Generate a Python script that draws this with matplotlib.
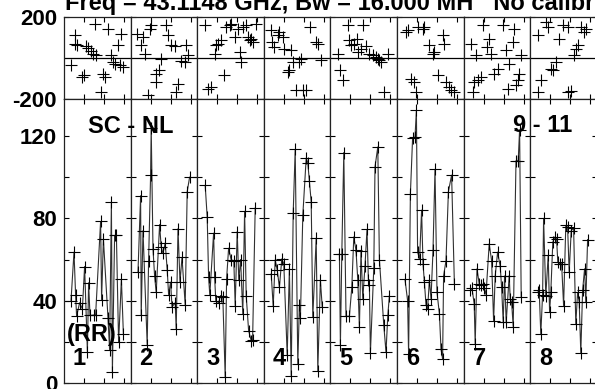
import matplotlib
matplotlib.use('Agg')
import matplotlib.pyplot as plt
from matplotlib.ticker import MultipleLocator

plt.rcParams['font.family'] = ['Liberation Sans', 'DejaVu Sans']
plt.rcParams['font.weight'] = 'bold'
plt.rcParams['axes.unicode_minus'] = False

title = 'Freq = 43.1148 GHz, Bw = 16.000 MH   No calibration'
col_labels = ['1', '2', '3', '4', '5', '6', '7', '8']

# amplitude: time (local units inside each box) and value
amp_t = [
    [0.35, 0.5, 0.58, 0.63, 0.78, 0.92, 1.03, 1.17, 1.23, 1.3, 1.48, 1.58, 1.83, 1.88, 1.97,
     2.2, 2.28, 2.37, 2.42, 2.53, 2.62, 2.73, 2.87, 2.97],
    [0.37, 0.5, 0.53, 0.62, 0.83, 0.9, 1.0, 1.03, 1.12, 1.2, 1.28, 1.45, 1.53, 1.62, 1.73,
     1.83, 1.9, 2.0, 2.07, 2.23, 2.28, 2.37, 2.47, 2.57, 2.73, 2.83, 2.95],
    [0.4, 0.5, 0.57, 0.63, 0.82, 0.87, 0.93, 1.07, 1.17, 1.28, 1.4, 1.47, 1.57, 1.7, 1.83,
     1.9, 2.0, 2.08, 2.17, 2.28, 2.37, 2.45, 2.57, 2.7, 2.77, 2.9],
    [0.37, 0.47, 0.57, 0.67, 0.78, 0.9, 1.0, 1.17, 1.28, 1.37, 1.47, 1.57, 1.7, 1.78, 1.83,
     1.95, 2.12, 2.2, 2.28, 2.37, 2.45, 2.62, 2.7, 2.83, 2.92],
    [0.45, 0.5, 0.57, 0.67, 0.78, 0.95, 1.07, 1.17, 1.28, 1.37, 1.45, 1.53, 1.62, 1.73, 1.83,
     1.9, 1.95, 2.0, 2.17, 2.23, 2.37, 2.45, 2.67, 2.78, 2.87, 2.95],
    [0.4, 0.53, 0.58, 0.67, 0.78, 0.9, 0.97, 1.03, 1.13, 1.23, 1.3, 1.37, 1.45, 1.53, 1.62,
     1.7, 1.8, 1.9, 2.0, 2.12, 2.2, 2.28, 2.33, 2.45, 2.57, 2.73, 2.87],
    [0.33, 0.42, 0.53, 0.58, 0.67, 0.78, 0.87, 0.95, 1.03, 1.12, 1.28, 1.4, 1.5, 1.58, 1.7,
     1.83, 1.9, 1.98, 2.05, 2.13, 2.28, 2.33, 2.4, 2.48, 2.62, 2.73, 2.8, 2.88],
    [0.37, 0.45, 0.53, 0.62, 0.67, 0.78, 0.9, 0.97, 1.03, 1.13, 1.23, 1.32, 1.38, 1.47, 1.57,
     1.67, 1.78, 1.87, 1.95, 2.05, 2.17, 2.28, 2.37, 2.45, 2.53, 2.62, 2.72, 2.78, 2.87],
]
amp_val = [
    [40, 63.6, 42.8, 32.4, 39, 36, 56.6, 15.2, 48.7, 32.8, 33, 33, 78.5, 40.5, 70,
     31.5, 16.2, 88, 5.5, 71.7, 71.7, 19.8, 50.3, 23.7],
    [54, 91, 32.8, 74, 18.5, 59.5, 101, 124, 65, 52, 44, 77, 66, 63, 68,
     55, 43, 49, 37, 39, 26, 75, 49, 61, 38, 93, 100],
    [96, 80.6, 51.4, 42.8, 72.8, 51.7, 40, 39, 42.5, 42, 2.8, 50.6, 65.5, 59.8, 59.5,
     37.6, 73.6, 50, 60, 33.6, 83.4, 42.5, 25.5, 20.6, 21, 85],
    [53, 37.3, 59.8, 55, 46.5, 60.3, 58, 13.6, 55.5, 3.6, 82.7, 113.5, 9.2, 38, 31.5,
     81.4, 109.3, 107, 98, 88, 32, 70.4, 6, 50, 37],
    [62.8, 18.5, 62.8, 112, 32.4, 32.4, 46.5, 71, 64.4, 50, 27, 64, 41, 57, 74.6,
     50, 47.4, 14.6, 56, 105, 114.7, 60, 28, 15, 32.8, 42.5],
    [50.3, 40, 14, 92, 119, 119.5, 132.5, 63.6, 60.3, 84, 58, 49, 38, 36, 50,
     41, 64.4, 103.8, 44, 33.6, 16.5, 11.7, 52, 59.5, 93, 101, 48],
    [45, 46, 38.4, 19, 55.5, 48.2, 47.5, 48, 46, 43, 67.6, 59.5, 30.3, 52, 63.6,
     56.8, 46.5, 29.8, 52, 29.5, 52.2, 40.9, 39.5, 27.4, 108, 108, 123, 41.7],
    [44, 45, 23.8, 43, 80, 42.5, 62, 34.4, 44, 68.4, 70.9, 70, 58.7, 58, 58,
     37.6, 76.6, 75.7, 53.8, 74, 75.3, 28.7, 44, 39.3, 14.6, 45, 55.5, 39.3, 69.7],
]

# phase (degrees)
ph_t = [
    [0.37, 0.53, 0.57, 0.67, 0.9, 1.0, 1.12, 1.2, 1.33, 1.45, 1.53, 1.62, 1.83, 1.95, 2.03,
     2.2, 2.33, 2.45, 2.53, 2.7, 2.78, 2.87, 2.95],
    [0.33, 0.53, 0.62, 0.7, 0.87, 0.95, 1.03, 1.25, 1.28, 1.4, 1.53, 1.78, 1.87, 2.03, 2.2,
     2.28, 2.37, 2.5, 2.7, 2.78, 2.87],
    [0.37, 0.53, 0.7, 0.87, 0.95, 1.03, 1.2, 1.33, 1.45, 1.62, 1.7, 1.87, 2.03, 2.12, 2.2,
     2.28, 2.45, 2.53, 2.62, 2.7, 2.78, 2.95],
    [0.37, 0.4, 0.53, 0.7, 0.78, 0.95, 1.03, 1.2, 1.28, 1.37, 1.45, 1.62, 1.78, 1.87, 1.95,
     2.12, 2.33, 2.62, 2.7, 2.87],
    [0.37, 0.5, 0.62, 0.87, 0.95, 1.03, 1.2, 1.33, 1.37, 1.53, 1.62, 1.78, 1.95, 2.12, 2.28,
     2.37, 2.45, 2.53, 2.7, 2.87],
    [0.45, 0.53, 0.7, 0.83, 0.95, 1.03, 1.28, 1.37, 1.62, 1.78, 1.87, 2.03, 2.28, 2.37, 2.45,
     2.62, 2.7, 2.87],
    [0.37, 0.45, 0.53, 0.62, 0.7, 0.87, 0.95, 1.17, 1.28, 1.37, 1.53, 1.7, 1.95, 2.12, 2.2,
     2.28, 2.45, 2.53, 2.62, 2.7, 2.78, 2.87],
    [0.37, 0.4, 0.53, 0.78, 0.87, 1.03, 1.12, 1.28, 1.45, 1.62, 1.87, 1.9, 2.03, 2.2, 2.28,
     2.37, 2.53, 2.7, 2.78],
]
ph_val = [
    [-36, 114, 70, 62, -93, -85, 59, 49, 33, 21, 167, 13, -166, -76, -93,
     143, 13, -20, -28, 62, -36, 119, -44],
    [119, 62, 102, 21, -182, 143, 159, -117, -76, -60, -3, 159, 111, 62, 60,
     -166, -125, -15, -20, 62, 13],
    [159, -150, -140, 21, 62, 70, 86, -85, 151, 159, 167, 102, 143, 29, -20,
     151, 159, 102, 86, 95, 78, 167],
    [135, 78, 54, 111, 127, 102, 46, -68, -60, 37, -20, -158, -20, -5, -158,
     -158, 151, 78, 70, -11],
    [21, -60, -109, 159, 86, 62, 70, 94, 29, 46, 159, 60, 21, 13, 5,
     -3, -11, -20, -166, 21],
    [127, 135, -101, -117, -166, 151, 143, 151, 62, 21, 29, -85, 111, 70, -117,
     -141, -158, -166],
    [70, -166, -117, 13, -109, -93, 159, 54, 94, 21, -76, -52, 159, 37, -150,
     -28, 78, 143, -133, -109, -76, 13],
    [111, -166, -109, 176, 151, -52, -60, -20, 94, 159, 151, -166, -160, 13, 46,
     62, 151, 127, 143],
]

W, H = 595, 389
fig = plt.figure(figsize=(W / 100, H / 100), dpi=100)

x0 = 64
cw = 66.6
top_y0, top_y1 = 17, 99
bot_y0, bot_y1 = 99, 383


def px_box(left, top, width, height):
    return [left / W, 1 - (top + height) / H, width / W, height / H]


tick_kw = dict(direction='in', length=3.6, width=0.8, colors='black',
               top=True, right=True, labelsize=16, pad=5)

for i in range(8):
    left = x0 + i * cw
    # phase panel
    axp = fig.add_axes(px_box(left, top_y0, cw, top_y1 - top_y0))
    axp.plot(ph_t[i], ph_val[i], ls='none', marker='+', ms=9, mew=0.8, color='black')
    axp.axhline(0, color='black', lw=0.9)
    axp.set_xlim(0, 3.33)
    axp.set_ylim(-200, 200)
    axp.set_xticks([1, 2, 3])
    axp.set_yticks([-200, 200])
    axp.tick_params(axis='both', which='both', labelbottom=False, **tick_kw)
    axp.tick_params(axis='y', labelleft=(i == 0))

    # amplitude panel
    axa = fig.add_axes(px_box(left, bot_y0, cw, bot_y1 - bot_y0))
    axa.plot(amp_t[i], amp_val[i], color='#303030', lw=0.8, marker='+', ms=9,
             mew=0.8, mec='black')
    axa.set_xlim(0, 3.33)
    axa.set_ylim(0, 138)
    axa.set_xticks([1, 2, 3])
    axa.set_yticks([0, 40, 80, 120])
    axa.yaxis.set_minor_locator(MultipleLocator(20))
    axa.tick_params(axis='both', which='both', labelbottom=False, **tick_kw)
    axa.tick_params(axis='y', labelleft=(i == 0))

    for ax in (axp, axa):
        for s in ax.spines.values():
            s.set_linewidth(0.9)
            s.set_color('#222222')

    fig.text((left + 9) / W, 1 - 365 / H, col_labels[i], fontsize=17,
             fontweight='bold', ha='left', va='baseline')

fig.text(65 / W, 1 - 10 / H, title, fontsize=17, fontweight='bold',
         ha='left', va='baseline')
fig.text(88 / W, 1 - 133 / H, 'SC - NL', fontsize=17, fontweight='bold',
         ha='left', va='baseline')
fig.text(513 / W, 1 - 132 / H, '9 - 11', fontsize=17, fontweight='bold',
         ha='left', va='baseline')
fig.text(67 / W, 1 - 341 / H, '(RR)', fontsize=17, fontweight='bold',
         ha='left', va='baseline')

fig.savefig('out.png', dpi=100)
